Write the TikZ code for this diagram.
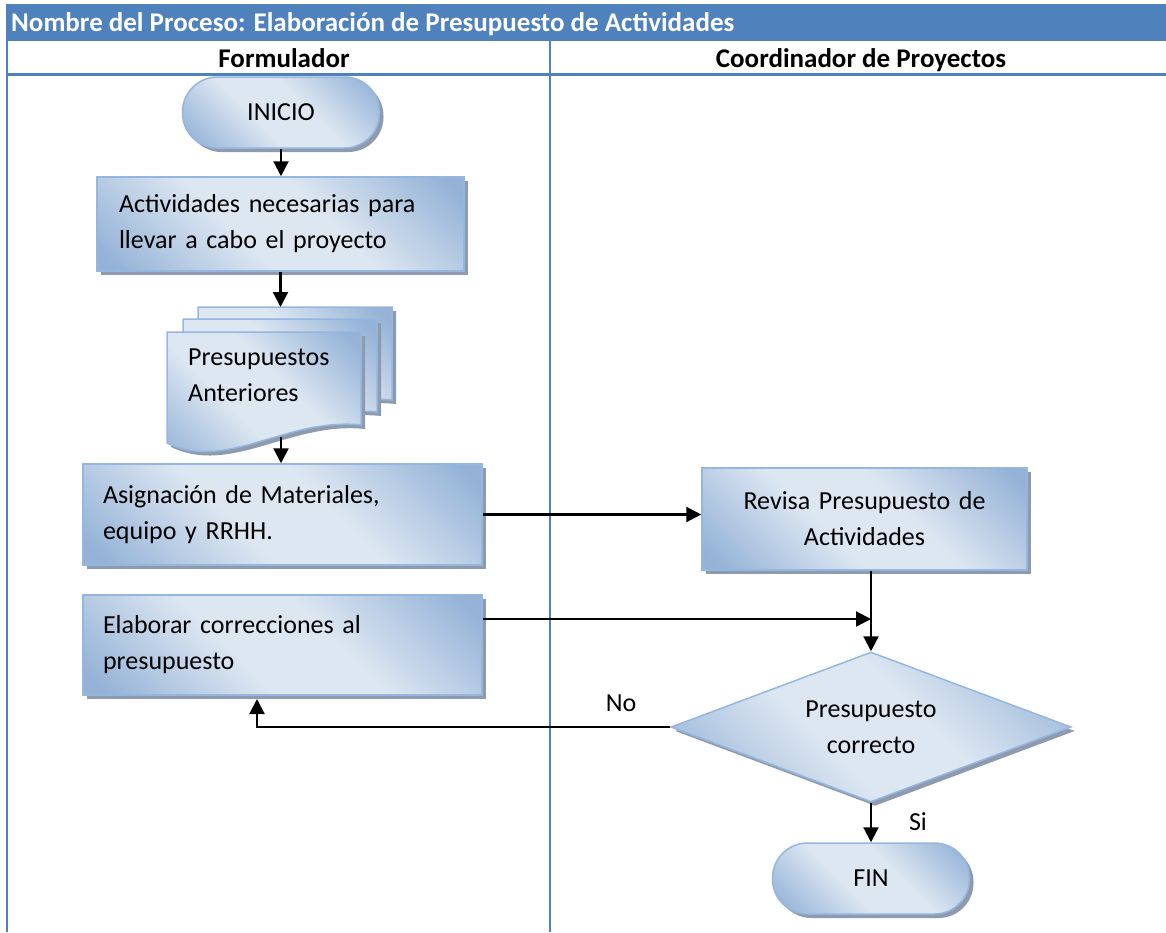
\documentclass[tikz,border=0pt]{standalone}
\usepackage{fontspec}
\setmainfont{Carlito}
\usetikzlibrary{arrows.meta,shapes.geometric,shadows,calc}

\definecolor{hdrblue}{HTML}{4F81BD}
\definecolor{shdark}{HTML}{95B3D7}
\definecolor{shlight}{HTML}{DDE7F2}
\definecolor{shapeborder}{HTML}{94B6DF}
\definecolor{shadowgray}{RGB}{142,155,175}

% diagonal light band across each flowchart shape
\pgfdeclarehorizontalshading{officeblue}{100bp}{color(0bp)=(shdark); color(18bp)=(shdark); color(42bp)=(shlight); color(58bp)=(shlight); color(82bp)=(shdark); color(100bp)=(shdark)}

\tikzset{
  bodyfont/.style={font=\fontsize{26}{36}\selectfont},
  headfont/.style={font=\fontsize{27}{30}\selectfont\bfseries},
  flowshape/.style={draw=shapeborder, line width=1.5pt, shading=officeblue, shading angle=45,
    drop shadow={shadow xshift=4pt, shadow yshift=-4pt, fill=shadowgray, opacity=1},
    bodyfont, inner sep=0pt},
  terminal/.style={flowshape, rectangle, rounded corners=35pt, minimum width=197pt, minimum height=71pt},
  procbox/.style={flowshape, rectangle, align=left},
  decision/.style={flowshape, diamond, minimum width=400pt, minimum height=150pt, aspect=2.667, align=center},
  flow/.style={line width=2.2pt, -{Triangle[length=15pt,width=15pt]}},
  lane/.style={draw=hdrblue, line width=2pt},
  docsheet/.style={draw=shapeborder, line width=1.5pt, shading=officeblue, shading angle=45},
  pics/document/.style={code={
    \fill[shadowgray, shift={(4,4)}] (0,0) -- (194,0) -- (194,93) .. controls (120,85) and (60,140) .. (0,111) -- cycle;
    \path[docsheet] (0,0) -- (194,0) -- (194,93) .. controls (120,85) and (60,140) .. (0,111) -- cycle;
  }}
}

\begin{document}
\begin{tikzpicture}[x=1pt,y=-1pt]
\useasboundingbox (0,0) rectangle (1166,932);
\fill[white] (0,0) rectangle (1166,932);

% table header and swimlanes
\fill[hdrblue] (6,4) rectangle (1166,41);
\node[anchor=base west, text=white, headfont, inner sep=0pt] (title) at (11,31.5)
  {Nombre del Proceso: Elaboración de Presupuesto de Actividades};
\node[anchor=base, headfont, inner sep=0pt] (laneA) at (284,67) {Formulador};
\node[anchor=base, headfont, inner sep=0pt] (laneB) at (861,67) {Coordinador de Proyectos};
\draw[lane] (7,38) -- (7,932);
\draw[lane] (550,41) -- (550,932);
\draw[lane, line width=3pt] (6,74) -- (1166,74);

% Formulador lane
\node[terminal] (inicio) at (281,112.5) {INICIO};
\node[procbox, minimum height=94pt, text width=323pt, inner xsep=22pt] (box1) at (280.5,224)
  {Actividades necesarias para\\llevar a cabo el proyecto};

\pic at (198,307) {document};
\pic at (183,319) {document};
\pic at (167,332) {document};
\node[anchor=west, align=left, bodyfont, inner sep=0pt] (doctext) at (188,375.5) {Presupuestos\\Anteriores};
\coordinate (docin) at (281,307);
\coordinate (docout) at (281,437);

\node[procbox, minimum height=101pt, text width=359pt, inner xsep=20pt] (box3) at (282.5,514.5)
  {Asignación de Materiales,\\equipo y RRHH.};
\node[procbox, minimum height=100pt, text width=359pt, inner xsep=20pt] (box4) at (282.5,645)
  {Elaborar correcciones al\\presupuesto};

% Coordinador lane
\node[procbox, align=center, minimum height=102pt, text width=285pt, inner xsep=20pt] (revisa) at (864.5,519)
  {Revisa Presupuesto de\\Actividades};
\node[decision] (dec) at (871,727) {Presupuesto\\correcto};
\node[terminal] (fin) at (871,878.5) {FIN};

% connectors
\draw[flow] (inicio.south) -- (inicio.south |- box1.north);
\draw[flow] (box1.south) -- (box1.south |- docin);
\draw[flow] (docout) -- (docout |- box3.north);
\draw[flow] (box3.east) -- (box3.east -| revisa.west);
\draw[flow] (box4.east |- 0,619) -- (dec.north |- 0,619);
\draw[flow] (revisa.south -| dec.north) -- (dec.north);
\coordinate (noend) at (257,699);
\draw[flow] (dec.west) -| (noend);
\draw[flow] (dec.south) -- (fin.north);

\node[bodyfont, inner sep=0pt] (nolbl) at (621,703) {No};
\node[bodyfont, inner sep=0pt] (silbl) at (918,822) {Si};
\end{tikzpicture}
\end{document}
